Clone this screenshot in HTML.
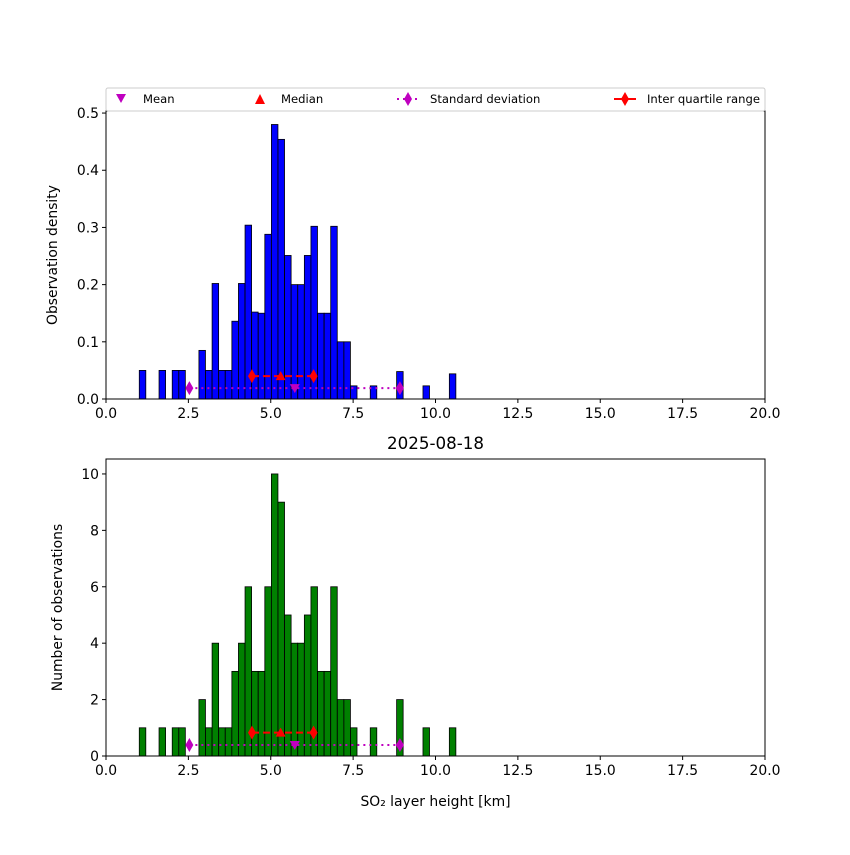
<!DOCTYPE html>
<html><head><meta charset="utf-8"><style>
body{margin:0;background:#fff}
svg text{font-family:"DejaVu Sans","Liberation Sans",sans-serif;fill:#000}
</style></head><body>
<svg id="c" width="850" height="850" xmlns="http://www.w3.org/2000/svg"></svg>
<script>
const binStarts=[1.01,1.61,2.01,2.21,2.82,3.02,3.22,3.42,3.62,3.82,4.02,4.22,4.42,4.62,4.82,5.02,5.22,5.42,5.62,5.82,6.02,6.22,6.42,6.62,6.82,7.02,7.22,7.42,8.02,8.82,9.62,10.42];
const binWidth=0.198;
const counts=[1,1,1,1,2,1,4,1,1,3,4,6,3,3,6,10,9,5,4,4,5,6,3,3,6,2,2,1,1,2,1,1];
const densities=[0.05,0.05,0.05,0.05,0.085,0.05,0.202,0.05,0.05,0.136,0.202,0.304,0.152,0.15,0.288,0.48,0.454,0.251,0.2,0.2,0.251,0.302,0.15,0.15,0.302,0.1,0.1,0.023,0.023,0.048,0.023,0.044];
const meanVal=5.73, medianVal=5.30, q1=4.43, q3=6.30, sdLo=2.53, sdHi=8.92;
const topMarkY={iqr:0.040,sd:0.019}, botMarkY={iqr:0.83,sd:0.39};
const xTicks=[0,2.5,5,7.5,10,12.5,15,17.5,20];
const topYTicks=[0,0.1,0.2,0.3,0.4,0.5];
const botYTicks=[0,2,4,6,8,10];

const svg=document.getElementById('c');
const NS='http://www.w3.org/2000/svg';
function mk(t,a,p){const e=document.createElementNS(NS,t);for(const k in a)e.setAttribute(k,a[k]);(p||svg).appendChild(e);return e;}
const X0=106,X1=765;
const sx=v=>X0+(v-0)/(20-0)*(X1-X0);

function panel(name,yTop,yBot,ymax,ticks,fmt,vals,color,ylabel,my){
  const g=mk('g',{});
  
  
  const sy=v=>yBot-v/ymax*(yBot-yTop);
  vals.forEach((v,i)=>{
    const r=mk('rect',{x:sx(binStarts[i]),y:sy(v),width:sx(binStarts[i]+binWidth)-sx(binStarts[i]),height:yBot-sy(v),fill:color,stroke:'#000','stroke-width':0.8},g);
    
    
  });
  const yS=sy(my.sd), yI=sy(my.iqr);
  const sdl=mk('line',{x1:sx(sdLo),x2:sx(sdHi),y1:yS,y2:yS,stroke:'#bf00bf','stroke-width':2,'stroke-dasharray':'2,4'},g);
  
  
  [sdLo,sdHi].forEach(v=>{const d=mk('polygon',{points:`${sx(v)},${yS-7} ${sx(v)+4},${yS} ${sx(v)},${yS+7} ${sx(v)-4},${yS}`,fill:'#bf00bf'},g);
    
    });
  const il=mk('line',{x1:sx(q1),x2:sx(q3),y1:yI,y2:yI,stroke:'red','stroke-width':2,'stroke-dasharray':'7,4'},g);
  
  
  [q1,q3].forEach(v=>{const d=mk('polygon',{points:`${sx(v)},${yI-7} ${sx(v)+4},${yI} ${sx(v)},${yI+7} ${sx(v)-4},${yI}`,fill:'red'},g);
    
    });
  const md=mk('polygon',{points:`${sx(medianVal)-5},${yI+4} ${sx(medianVal)+5},${yI+4} ${sx(medianVal)},${yI-5}`,fill:'red'},g);
  
  
  const mn=mk('polygon',{points:`${sx(meanVal)-5},${yS-4} ${sx(meanVal)+5},${yS-4} ${sx(meanVal)},${yS+5}`,fill:'#bf00bf'},g);
  
  
  const fr=mk('rect',{x:X0,y:yTop,width:X1-X0,height:yBot-yTop,fill:'none',stroke:'#000','stroke-width':1},g);
  
  
  xTicks.forEach(t=>{mk('line',{x1:sx(t),x2:sx(t),y1:yBot,y2:yBot+4,stroke:'#000'},g);
    const tx=mk('text',{x:sx(t),y:yBot+19,'text-anchor':'middle','font-size':13.9},g);tx.textContent=t.toFixed(1);
    
    });
  ticks.forEach(t=>{mk('line',{x1:X0-4,x2:X0,y1:sy(t),y2:sy(t),stroke:'#000'},g);
    const tx=mk('text',{x:X0-7,y:sy(t)+5,'text-anchor':'end','font-size':13.9},g);tx.textContent=fmt(t);
    
    });
  const yl=mk('text',{x:0,y:0,'text-anchor':'middle','font-size':13.9,transform:`translate(${name==='top-panel'?57:62},${(yTop+yBot)/2}) rotate(-90)`},g);
  yl.textContent=ylabel;
  
  
}
panel('top-panel',111,399,0.5036,topYTicks,t=>t.toFixed(1),densities,'#0000ff','Observation density',topMarkY);
panel('bottom-panel',459,756,10.53,botYTicks,t=>String(t),counts,'#008000','Number of observations',botMarkY);

const title=mk('text',{x:435.5,y:449,'text-anchor':'middle','font-size':16.7});
title.textContent='2025-08-18';


const xl=mk('text',{x:435.5,y:806,'text-anchor':'middle','font-size':13.9});
xl.textContent='SO₂ layer height [km]';



const lg=mk('g',{});


mk('rect',{x:106,y:88,width:659,height:23,fill:'#fff',stroke:'#ccc',rx:2},lg);
function entry(x,label,draw,name){const e=mk('g',{},lg);
  
  
  draw(e);const t=mk('text',{x:x,y:103,'font-size':11.6},e);t.textContent=label;}
entry(143,'Mean',e=>mk('polygon',{points:'116,94 126,94 121,103',fill:'#bf00bf'},e),'legend-mean');
entry(281,'Median',e=>mk('polygon',{points:'255,104 265,104 260,94',fill:'red'},e),'legend-median');
entry(430,'Standard deviation',e=>{mk('line',{x1:397,x2:418,y1:99,y2:99,stroke:'#bf00bf','stroke-width':2,'stroke-dasharray':'2,4'},e);mk('polygon',{points:'408,92 412,99 408,106 404,99',fill:'#bf00bf'},e);},'legend-std');
entry(647,'Inter quartile range',e=>{mk('line',{x1:614,x2:636,y1:99,y2:99,stroke:'red','stroke-width':2},e);mk('polygon',{points:'625,92 629,99 625,106 621,99',fill:'red'},e);},'legend-iqr');
</script>
</body></html>
